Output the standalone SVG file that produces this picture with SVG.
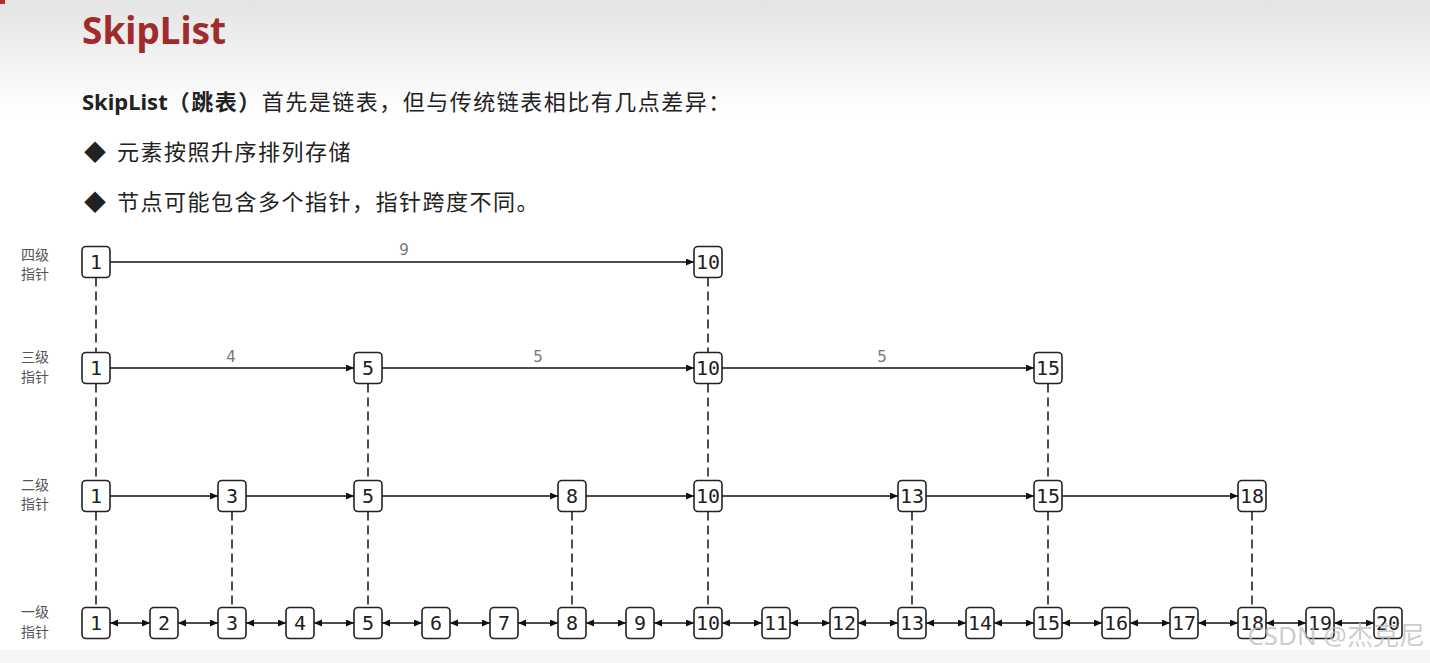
<svg xmlns="http://www.w3.org/2000/svg" width="1430" height="663" viewBox="0 0 1430 663">
<defs>
<linearGradient id="bg" x1="0" y1="0" x2="0" y2="1">
<stop offset="0" stop-color="#e4e4e4"/>
<stop offset="1" stop-color="#ffffff"/>
</linearGradient>
<marker id="ah" markerUnits="userSpaceOnUse" markerWidth="9" markerHeight="8" refX="8" refY="3.5" orient="auto-start-reverse">
<path d="M0,0 L8,3.5 L0,7 z" fill="#111"/>
</marker>
<style>
.box{fill:#fff;stroke:#222;stroke-width:1.6}
.num{font-family:"DejaVu Sans Mono",monospace;font-size:20px;fill:#222;text-anchor:middle}
.lvl{font-family:"Noto Sans CJK SC",sans-serif;font-size:14px;fill:#555;text-anchor:middle}
.edge{stroke:#111;stroke-width:1.6;fill:none;marker-end:url(#ah)}
.bi{stroke:#111;stroke-width:1.6;fill:none;marker-end:url(#ah);marker-start:url(#ah)}
.dash{stroke:#222;stroke-width:1.6;stroke-dasharray:9 5;fill:none}
.lab{font-family:"DejaVu Sans",sans-serif;font-size:15px;fill:#777;text-anchor:middle}
.body{font-family:"Noto Sans","Noto Sans CJK SC",sans-serif;font-size:22px;fill:#222;letter-spacing:1.5px}
</style>
</defs>
<rect x="0" y="0" width="1430" height="663" fill="#fff"/>
<rect x="0" y="0" width="1430" height="115" fill="url(#bg)"/>
<rect x="0" y="650" width="1430" height="13" fill="#f6f6f6"/>
<rect x="0" y="0" width="5" height="4" fill="#b03030"/>

<g id="header">
<text x="82" y="44" font-family="'Noto Sans','Noto Sans CJK SC',sans-serif" font-weight="bold" font-size="37" fill="#a12a2c">SkipList</text>
<text class="body" x="82" y="110"><tspan font-weight="bold" letter-spacing="0">SkipList</tspan><tspan font-weight="bold">（跳表）</tspan>首先是链表，但与传统链表相比有几点差异：</text>
<text class="body" x="84" y="160" letter-spacing="0">◆</text>
<text class="body" x="117" y="160">元素按照升序排列存储</text>
<text class="body" x="84" y="210" letter-spacing="0">◆</text>
<text class="body" x="117" y="210">节点可能包含多个指针，指针跨度不同。</text>
</g>

<g id="level-labels">
<text class="lvl" x="35" y="260">四级</text><text class="lvl" x="35" y="279">指针</text>
<text class="lvl" x="35" y="362">三级</text><text class="lvl" x="35" y="382">指针</text>
<text class="lvl" x="35" y="490">二级</text><text class="lvl" x="35" y="509">指针</text>
<text class="lvl" x="35" y="617">一级</text><text class="lvl" x="35" y="637">指针</text>
</g>

<g id="connectors">
<line class="dash" x1="96" y1="277.5" x2="96" y2="352.5"/>
<line class="dash" x1="96" y1="383.5" x2="96" y2="480.5"/>
<line class="dash" x1="96" y1="511.5" x2="96" y2="607.5"/>
<line class="dash" x1="708" y1="277.5" x2="708" y2="352.5"/>
<line class="dash" x1="708" y1="383.5" x2="708" y2="480.5"/>
<line class="dash" x1="708" y1="511.5" x2="708" y2="607.5"/>
<line class="dash" x1="368" y1="383.5" x2="368" y2="480.5"/>
<line class="dash" x1="368" y1="511.5" x2="368" y2="607.5"/>
<line class="dash" x1="1048" y1="383.5" x2="1048" y2="480.5"/>
<line class="dash" x1="1048" y1="511.5" x2="1048" y2="607.5"/>
<line class="dash" x1="232" y1="511.5" x2="232" y2="607.5"/>
<line class="dash" x1="572" y1="511.5" x2="572" y2="607.5"/>
<line class="dash" x1="912" y1="511.5" x2="912" y2="607.5"/>
<line class="dash" x1="1252" y1="511.5" x2="1252" y2="607.5"/>
<line class="edge" x1="110" y1="262" x2="694" y2="262"/>
<line class="edge" x1="110" y1="368" x2="354" y2="368"/>
<line class="edge" x1="382" y1="368" x2="694" y2="368"/>
<line class="edge" x1="722" y1="368" x2="1034" y2="368"/>
<line class="edge" x1="110" y1="496" x2="218" y2="496"/>
<line class="edge" x1="246" y1="496" x2="354" y2="496"/>
<line class="edge" x1="382" y1="496" x2="558" y2="496"/>
<line class="edge" x1="586" y1="496" x2="694" y2="496"/>
<line class="edge" x1="722" y1="496" x2="898" y2="496"/>
<line class="edge" x1="926" y1="496" x2="1034" y2="496"/>
<line class="edge" x1="1062" y1="496" x2="1238" y2="496"/>
<line class="bi" x1="110" y1="623" x2="150" y2="623"/>
<line class="bi" x1="178" y1="623" x2="218" y2="623"/>
<line class="bi" x1="246" y1="623" x2="286" y2="623"/>
<line class="bi" x1="314" y1="623" x2="354" y2="623"/>
<line class="bi" x1="382" y1="623" x2="422" y2="623"/>
<line class="bi" x1="450" y1="623" x2="490" y2="623"/>
<line class="bi" x1="518" y1="623" x2="558" y2="623"/>
<line class="bi" x1="586" y1="623" x2="626" y2="623"/>
<line class="bi" x1="654" y1="623" x2="694" y2="623"/>
<line class="bi" x1="722" y1="623" x2="762" y2="623"/>
<line class="bi" x1="790" y1="623" x2="830" y2="623"/>
<line class="bi" x1="858" y1="623" x2="898" y2="623"/>
<line class="bi" x1="926" y1="623" x2="966" y2="623"/>
<line class="bi" x1="994" y1="623" x2="1034" y2="623"/>
<line class="bi" x1="1062" y1="623" x2="1102" y2="623"/>
<line class="bi" x1="1130" y1="623" x2="1170" y2="623"/>
<line class="bi" x1="1198" y1="623" x2="1238" y2="623"/>
<line class="bi" x1="1266" y1="623" x2="1306" y2="623"/>
<line class="bi" x1="1334" y1="623" x2="1374" y2="623"/>
<text class="lab" x="404" y="255">9</text>
<text class="lab" x="231" y="362">4</text>
<text class="lab" x="538" y="362">5</text>
<text class="lab" x="882" y="362">5</text>
</g>

<g id="l4-1"><rect class="box" x="82" y="246.5" width="28" height="31" rx="4"/><text class="num" x="96" y="269">1</text></g>
<g id="l4-10"><rect class="box" x="694" y="246.5" width="28" height="31" rx="4"/><text class="num" x="708" y="269">10</text></g>

<g id="l3-1"><rect class="box" x="82" y="352.5" width="28" height="31" rx="4"/><text class="num" x="96" y="375">1</text></g>
<g id="l3-5"><rect class="box" x="354" y="352.5" width="28" height="31" rx="4"/><text class="num" x="368" y="375">5</text></g>
<g id="l3-10"><rect class="box" x="694" y="352.5" width="28" height="31" rx="4"/><text class="num" x="708" y="375">10</text></g>
<g id="l3-15"><rect class="box" x="1034" y="352.5" width="28" height="31" rx="4"/><text class="num" x="1048" y="375">15</text></g>

<g id="l2-1"><rect class="box" x="82" y="480.5" width="28" height="31" rx="4"/><text class="num" x="96" y="503">1</text></g>
<g id="l2-3"><rect class="box" x="218" y="480.5" width="28" height="31" rx="4"/><text class="num" x="232" y="503">3</text></g>
<g id="l2-5"><rect class="box" x="354" y="480.5" width="28" height="31" rx="4"/><text class="num" x="368" y="503">5</text></g>
<g id="l2-8"><rect class="box" x="558" y="480.5" width="28" height="31" rx="4"/><text class="num" x="572" y="503">8</text></g>
<g id="l2-10"><rect class="box" x="694" y="480.5" width="28" height="31" rx="4"/><text class="num" x="708" y="503">10</text></g>
<g id="l2-13"><rect class="box" x="898" y="480.5" width="28" height="31" rx="4"/><text class="num" x="912" y="503">13</text></g>
<g id="l2-15"><rect class="box" x="1034" y="480.5" width="28" height="31" rx="4"/><text class="num" x="1048" y="503">15</text></g>
<g id="l2-18"><rect class="box" x="1238" y="480.5" width="28" height="31" rx="4"/><text class="num" x="1252" y="503">18</text></g>

<g id="l1-1"><rect class="box" x="82" y="607.5" width="28" height="31" rx="4"/><text class="num" x="96" y="630">1</text></g>
<g id="l1-2"><rect class="box" x="150" y="607.5" width="28" height="31" rx="4"/><text class="num" x="164" y="630">2</text></g>
<g id="l1-3"><rect class="box" x="218" y="607.5" width="28" height="31" rx="4"/><text class="num" x="232" y="630">3</text></g>
<g id="l1-4"><rect class="box" x="286" y="607.5" width="28" height="31" rx="4"/><text class="num" x="300" y="630">4</text></g>
<g id="l1-5"><rect class="box" x="354" y="607.5" width="28" height="31" rx="4"/><text class="num" x="368" y="630">5</text></g>
<g id="l1-6"><rect class="box" x="422" y="607.5" width="28" height="31" rx="4"/><text class="num" x="436" y="630">6</text></g>
<g id="l1-7"><rect class="box" x="490" y="607.5" width="28" height="31" rx="4"/><text class="num" x="504" y="630">7</text></g>
<g id="l1-8"><rect class="box" x="558" y="607.5" width="28" height="31" rx="4"/><text class="num" x="572" y="630">8</text></g>
<g id="l1-9"><rect class="box" x="626" y="607.5" width="28" height="31" rx="4"/><text class="num" x="640" y="630">9</text></g>
<g id="l1-10"><rect class="box" x="694" y="607.5" width="28" height="31" rx="4"/><text class="num" x="708" y="630">10</text></g>
<g id="l1-11"><rect class="box" x="762" y="607.5" width="28" height="31" rx="4"/><text class="num" x="776" y="630">11</text></g>
<g id="l1-12"><rect class="box" x="830" y="607.5" width="28" height="31" rx="4"/><text class="num" x="844" y="630">12</text></g>
<g id="l1-13"><rect class="box" x="898" y="607.5" width="28" height="31" rx="4"/><text class="num" x="912" y="630">13</text></g>
<g id="l1-14"><rect class="box" x="966" y="607.5" width="28" height="31" rx="4"/><text class="num" x="980" y="630">14</text></g>
<g id="l1-15"><rect class="box" x="1034" y="607.5" width="28" height="31" rx="4"/><text class="num" x="1048" y="630">15</text></g>
<g id="l1-16"><rect class="box" x="1102" y="607.5" width="28" height="31" rx="4"/><text class="num" x="1116" y="630">16</text></g>
<g id="l1-17"><rect class="box" x="1170" y="607.5" width="28" height="31" rx="4"/><text class="num" x="1184" y="630">17</text></g>
<g id="l1-18"><rect class="box" x="1238" y="607.5" width="28" height="31" rx="4"/><text class="num" x="1252" y="630">18</text></g>
<g id="l1-19"><rect class="box" x="1306" y="607.5" width="28" height="31" rx="4"/><text class="num" x="1320" y="630">19</text></g>
<g id="l1-20"><rect class="box" x="1374" y="607.5" width="28" height="31" rx="4"/><text class="num" x="1388" y="630">20</text></g>

<g id="watermark">
<text x="1425" y="645" text-anchor="end" font-family="'Noto Sans','Noto Sans CJK SC',sans-serif" font-size="26" fill="#bdbdbd" fill-opacity="0.75">CSDN @杰克尼</text>
</g>
</svg>
